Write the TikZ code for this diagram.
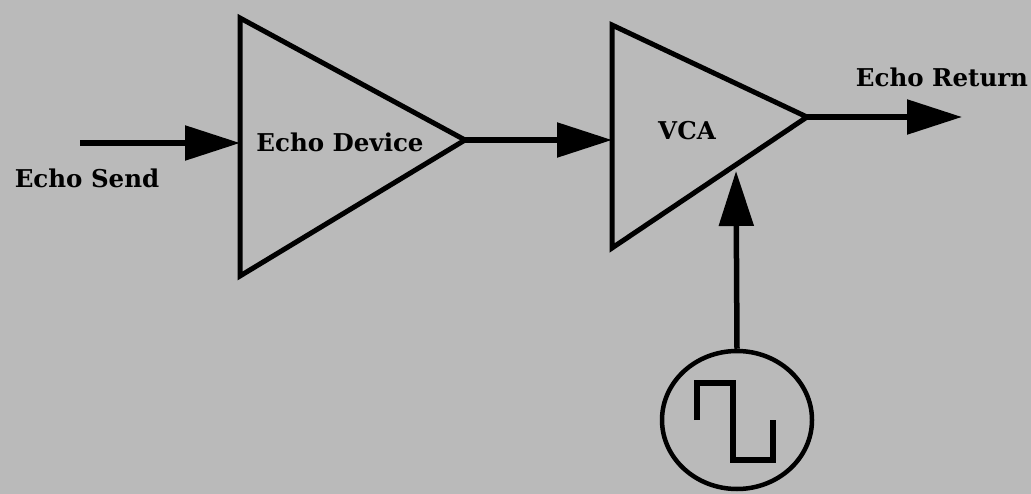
\documentclass[tikz,border=0pt]{standalone}
\usepackage{fontspec}
\setmainfont{DejaVu Serif}
\usetikzlibrary{arrows.meta,shapes.geometric}
\definecolor{paper}{RGB}{186,186,186}
\begin{document}
\begin{tikzpicture}[x=1pt,y=-1pt,line join=miter]
			\newcommand{\tsize}{\fontsize{24.5}{28}\selectfont\bfseries}
			\tikzstyle{amp}=[line width=5pt]
			\tikzstyle{sig}=[line width=5.5pt,-{Triangle[length=55pt,width=34pt]}]
			\fill[paper] (0,0) rectangle (1031,494);
			\useasboundingbox (0,0) rectangle (1031,494);
			% echo device
			\draw[amp] (240,18) -- (240,276) -- (465,140) -- cycle;
			\coordinate (D_in) at (240,143);
			\coordinate (D_out) at (465,140);
			\coordinate (S_in) at (80,143);
			% vca
			\draw[amp] (612,25) -- (612,248) -- (807,117) -- cycle;
			\coordinate (V_in) at (612,140);
			\coordinate (V_out) at (807,117);
			\coordinate (V_ctl) at (736,171);
			\coordinate (R_out) at (962,117);
			% oscillator
			\node[draw,ellipse,line width=4.5pt,minimum width=150pt,minimum height=138pt,inner sep=0] (Osc) at (737,420) {};
			\draw[line width=6pt] (697,420) -- (697,383) -- (733,383) -- (733,460) -- (773,460) -- (773,420);
			\begin{scope}[font=\tsize]
				\node (L_send) at (87,178) {Echo Send};
				\node (L_dev) at (340,142) {Echo Device};
				\node (L_vca) at (687,131) {VCA};
				\node (L_ret) at (942,77) {Echo Return};
			\end{scope}
			\draw[sig] (S_in) -- (D_in);
			\draw[sig] (D_out) -- (V_in);
			\draw[sig] (V_out) -- (R_out);
			\draw[sig] (Osc.north) -- (V_ctl);
		\end{tikzpicture}
\end{document}
